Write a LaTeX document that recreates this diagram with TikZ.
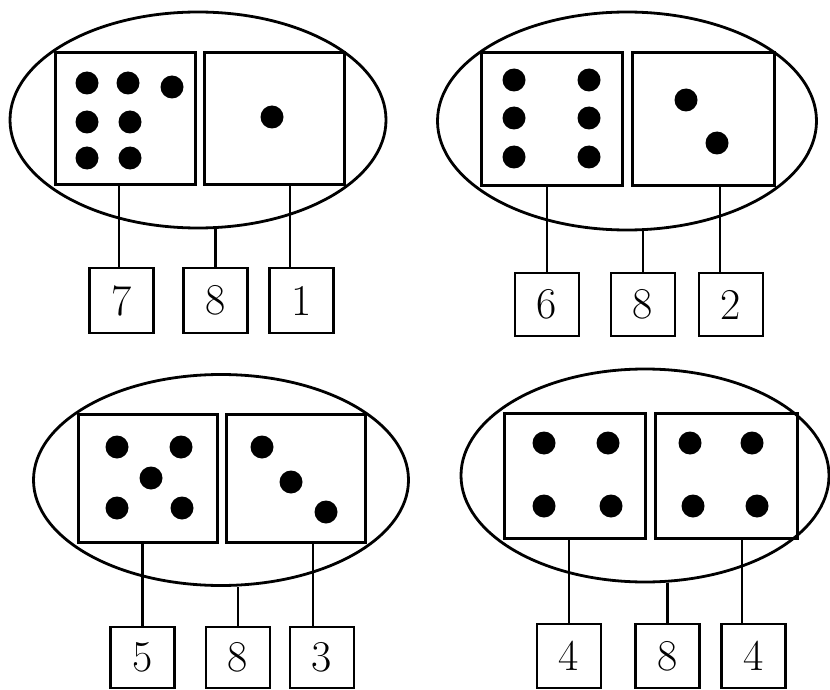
\documentclass[tikz,border=0pt]{standalone}
\usetikzlibrary{shapes.geometric}
\begin{document}
\begin{tikzpicture}[x=1pt,y=-1pt,
  ring/.style={draw,ellipse,line width=2.8pt,inner sep=0pt},
  face/.style={draw,rectangle,line width=3pt,inner sep=0pt},
  numbox/.style={draw,rectangle,line width=2.6pt,inner sep=0pt,minimum width=64pt,font=\fontsize{44}{44}\selectfont},
  link/.style={line width=2.8pt},
  pip/.style={fill=black}]
\useasboundingbox (0,0) rectangle (830,690);
% ---------- panel 1 ----------
\node[ring,minimum width=376pt,minimum height=216pt] (e1) at (198,120) {};
\node[face,minimum width=140pt,minimum height=131pt] (s1a) at (125,118.5) {};
\node[face,minimum width=140pt,minimum height=131pt] (s1b) at (274,118.5) {};
\foreach \p in {(87,83),(128,83),(172,87),(87,122),(130,122),(87,158),(130,158),(272,117)}
  \fill[pip] \p circle (11.5);
\node[numbox,minimum height=65pt] (n1a) at (121.5,300.5) {7};
\node[numbox,minimum height=65pt] (n1b) at (215.5,300.5) {8};
\node[numbox,minimum height=65pt] (n1c) at (301.5,300.5) {1};
\draw[link] ([xshift=-2.5pt]n1a.north) -- ([xshift=-2.5pt]n1a.north |- s1a.south);
\draw[link] (n1b.north) -- (n1b.north |- e1.south);
\draw[link] ([xshift=-11.5pt]n1c.north) -- ([xshift=-11.5pt]n1c.north |- s1b.south);
% ---------- panel 2 ----------
\node[ring,minimum width=379pt,minimum height=218pt] (e2) at (627,121) {};
\node[face,minimum width=141pt,minimum height=132pt] (s2a) at (551.5,119) {};
\node[face,minimum width=142pt,minimum height=132pt] (s2b) at (703,119) {};
\foreach \p in {(514,80),(589,80),(514,118),(589,118),(514,157),(589,157),(686,100),(717,143)}
  \fill[pip] \p circle (11.5);
\node[numbox,minimum height=63pt] (n2a) at (547,304.5) {6};
\node[numbox,minimum height=63pt] (n2b) at (643,304.5) {8};
\node[numbox,minimum height=63pt] (n2c) at (731,304.5) {2};
\draw[link] (n2a.north) -- (n2a.north |- s2a.south);
\draw[link] (n2b.north) -- (n2b.north |- e2.south);
\draw[link] ([xshift=-11pt]n2c.north) -- ([xshift=-11pt]n2c.north |- s2b.south);
% ---------- panel 3 ----------
\node[ring,minimum width=375pt,minimum height=211pt] (e3) at (221,480) {};
\node[face,minimum width=139pt,minimum height=128pt] (s3a) at (147.5,478) {};
\node[face,minimum width=139pt,minimum height=128pt] (s3b) at (295.5,478) {};
\foreach \p in {(117,447),(181,447),(151,478),(117,508),(182,508),(262,447),(291,482),(326,512)}
  \fill[pip] \p circle (11.5);
\node[numbox,minimum height=61pt] (n3a) at (142.5,657.5) {5};
\node[numbox,minimum height=61pt] (n3b) at (238,657.5) {8};
\node[numbox,minimum height=61pt] (n3c) at (322,657.5) {3};
\draw[link] (n3a.north) -- (n3a.north |- s3a.south);
\draw[link] (n3b.north) -- (n3b.north |- e3.south);
\draw[link] ([xshift=-9pt]n3c.north) -- ([xshift=-9pt]n3c.north |- s3b.south);
% ---------- panel 4 ----------
\node[ring,minimum width=368pt,minimum height=213pt] (e4) at (645,475.5) {};
\node[face,minimum width=141pt,minimum height=125pt] (s4a) at (574.5,475.5) {};
\node[face,minimum width=142pt,minimum height=125pt] (s4b) at (726,475.5) {};
\foreach \p in {(544,443),(608,443),(544,506),(611,506),(690,443),(752,443),(693,506),(757,506)}
  \fill[pip] \p circle (11.5);
\node[numbox,minimum height=64pt] (n4a) at (569,656) {4};
\node[numbox,minimum height=64pt] (n4b) at (667.5,656) {8};
\node[numbox,minimum height=64pt] (n4c) at (753.5,656) {4};
\draw[link] (n4a.north) -- (n4a.north |- s4a.south);
\draw[link] (n4b.north) -- (n4b.north |- e4.south);
\draw[link] ([xshift=-11.5pt]n4c.north) -- ([xshift=-11.5pt]n4c.north |- s4b.south);
\end{tikzpicture}
\end{document}
